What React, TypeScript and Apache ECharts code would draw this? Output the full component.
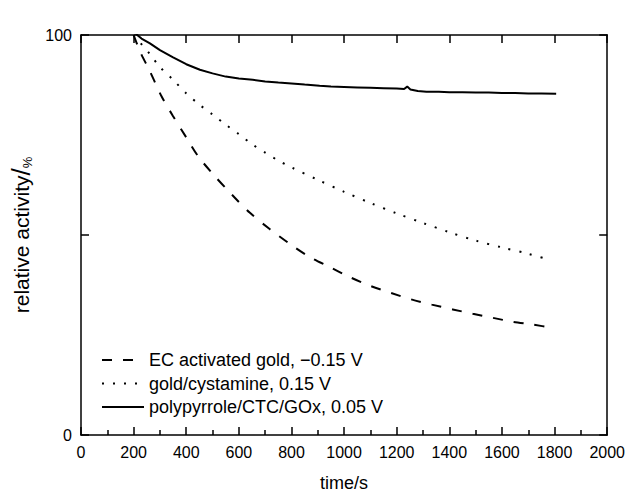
import React, { useEffect, useRef } from "react";
import * as echarts from "echarts";

const FONT = "'Liberation Sans', Arial, Helvetica, sans-serif";

// EC activated gold, -0.15 V (dashed)
const ecTime = [200, 225, 262, 306, 350, 401, 445, 502, 572, 641, 717, 793, 869, 945, 1021, 1103, 1179, 1255, 1333, 1413, 1489, 1565, 1641, 1717, 1800];
const ecValue = [100, 95.8, 90.9, 84.7, 79.7, 74.3, 69.7, 65.2, 60.2, 55.6, 51.5, 47.8, 44.5, 42.0, 39.5, 37.2, 35.5, 33.9, 32.6, 31.4, 30.3, 29.3, 28.3, 27.6, 26.7];

// gold/cystamine, 0.15 V (dotted)
const cysTime = [200, 262, 300, 350, 400, 450, 500, 550, 600, 650, 700, 750, 800, 900, 1000, 1100, 1200, 1300, 1400, 1500, 1600, 1700, 1780];
const cysValue = [100, 95.2, 92.0, 88.8, 85.4, 82.6, 80.1, 77.6, 75.2, 72.7, 70.6, 68.6, 66.9, 63.8, 60.8, 58.0, 55.4, 53.0, 50.7, 48.6, 46.9, 45.3, 43.8];

// polypyrrole/CTC/GOx, 0.05 V (solid)
const ppyTime = [200, 210, 230, 262, 300, 350, 400, 452, 500, 550, 600, 653, 700, 750, 800, 850, 907, 950, 1000, 1050, 1100, 1150, 1200, 1228, 1240, 1252, 1280, 1313, 1360, 1400, 1450, 1500, 1550, 1600, 1650, 1700, 1750, 1806];
const ppyValue = [101.0, 100.2, 99.1, 97.9, 96.2, 94.4, 92.7, 91.3, 90.4, 89.6, 89.1, 88.8, 88.4, 88.1, 87.9, 87.6, 87.3, 87.1, 87.0, 86.9, 86.8, 86.7, 86.6, 86.5, 87.1, 86.4, 86.0, 85.8, 85.8, 85.7, 85.7, 85.6, 85.6, 85.5, 85.5, 85.4, 85.4, 85.3];

const xTicks = { min: 0, max: 2000, interval: 200 };
const yTicks = { min: 0, max: 100, interval: 50 };
const yLabels = ["0", "100"];

const names = [
  "EC activated gold, \u22120.15 V",
  "gold/cystamine, 0.15 V",
  "polypyrrole/CTC/GOx, 0.05 V",
];

const zip = (t: number[], v: number[]) => t.map((x, i) => [x, v[i]]);

export default function App() {
  const ref = useRef<HTMLDivElement>(null);
  useEffect(() => {
    document.body.style.margin = "0";
    if (!ref.current) return;
    const chart = echarts.init(ref.current, undefined, { renderer: "svg" });
    const axisLine = { show: true, onZero: false, lineStyle: { color: "#000", width: 1.5 } };
    const tick = { show: true, inside: true, length: 8, lineStyle: { color: "#000", width: 1.5 } };
    chart.setOption({
      animation: false,
      backgroundColor: "#fff",
      textStyle: { fontFamily: FONT, color: "#000" },
      grid: { left: 81, right: 20, top: 35, bottom: 60 },
      legend: {
        orient: "vertical",
        left: 101,
        top: 351,
        padding: 0,
        itemWidth: 42,
        itemHeight: 14,
        itemGap: 5.5,
        itemStyle: { opacity: 0 },
        textStyle: { fontSize: 18, color: "#000", fontFamily: FONT, lineHeight: 18 },
        data: names,
      },
      xAxis: [
        {
          type: "value",
          position: "bottom",
          ...xTicks,
          name: "time/s",
          nameLocation: "middle",
          nameGap: 39,
          nameTextStyle: { fontSize: 18, color: "#000", fontFamily: FONT },
          axisLine,
          axisTick: tick,
          minorTick: { show: true, splitNumber: 2, length: 5, lineStyle: { color: "#000", width: 1.5 } },
          axisLabel: { fontSize: 16, color: "#000", fontFamily: FONT, margin: 9, formatter: (v: number) => String(v) },
          splitLine: { show: false },
        },
        {
          type: "value",
          position: "top",
          ...xTicks,
          axisLine,
          axisTick: tick,
          axisLabel: { show: false },
          splitLine: { show: false },
        },
      ],
      yAxis: [
        {
          type: "value",
          position: "left",
          ...yTicks,
          name: "relative activity{s|/}{p|%}",
          nameLocation: "middle",
          nameGap: 45,
          nameTextStyle: {
            fontSize: 21,
            color: "#000",
            fontFamily: FONT,
            rich: {
              s: { fontSize: 26, fontFamily: FONT, color: "#000", verticalAlign: "bottom" },
              p: { fontSize: 13, fontFamily: FONT, color: "#000", verticalAlign: "bottom" },
            },
          },
          axisLine,
          axisTick: tick,
          axisLabel: {
            fontSize: 16,
            color: "#000",
            fontFamily: FONT,
            margin: 9,
            formatter: (v: number) => (yLabels.includes(String(v)) ? String(v) : ""),
          },
          splitLine: { show: false },
        },
        {
          type: "value",
          position: "right",
          ...yTicks,
          axisLine,
          axisTick: tick,
          axisLabel: { show: false },
          splitLine: { show: false },
        },
      ],
      series: [
        {
          name: names[0],
          type: "line",
          data: zip(ecTime, ecValue),
          showSymbol: false,
          symbol: "none",
          smooth: 0.3,
          color: "#000",
          lineStyle: { color: "#000", width: 2, type: [10, 11], cap: "butt" },
        },
        {
          name: names[1],
          type: "line",
          data: zip(cysTime, cysValue),
          showSymbol: false,
          symbol: "none",
          smooth: 0.3,
          color: "#000",
          lineStyle: { color: "#000", width: 2, type: [2, 9], cap: "butt" },
        },
        {
          name: names[2],
          type: "line",
          data: zip(ppyTime, ppyValue),
          showSymbol: false,
          symbol: "none",
          color: "#000",
          lineStyle: { color: "#000", width: 2, type: "solid" },
        },
      ],
    });
    return () => chart.dispose();
  }, []);
  return <div ref={ref} style={{ width: 628, height: 497 }} />;
}
